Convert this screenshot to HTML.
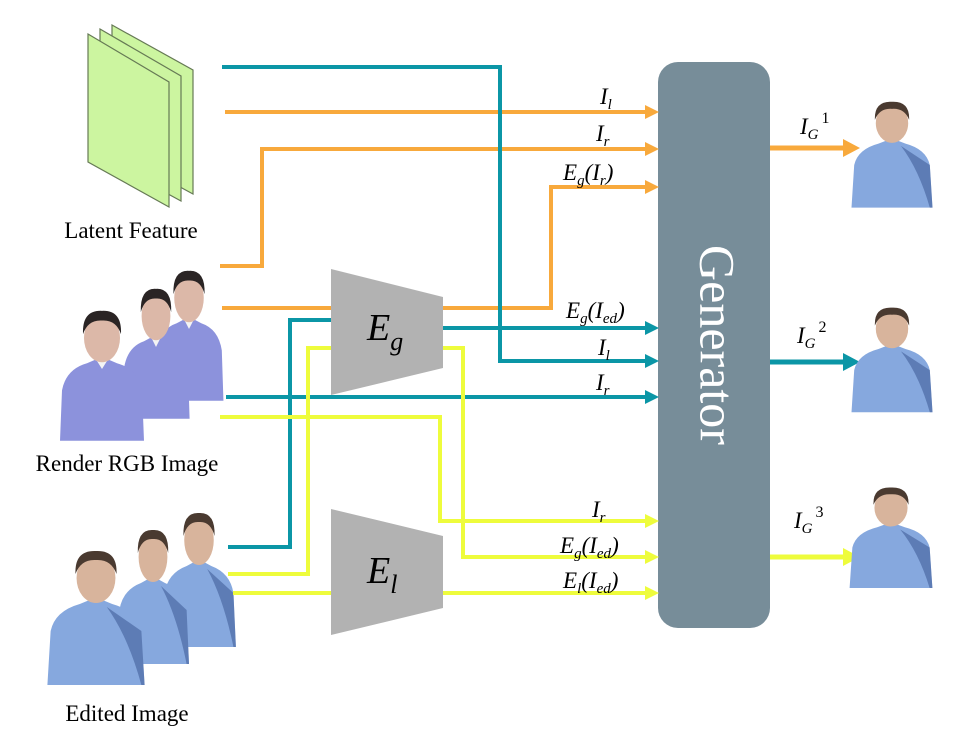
<!DOCTYPE html>
<html><head><meta charset="utf-8"><style>
html,body{margin:0;padding:0;background:#fff;}
svg{display:block;}
.m{font-family:"Liberation Serif",serif;font-style:italic;font-size:23px;fill:#000;}
.s{font-size:15px;}
.t{font-family:"Liberation Serif",serif;font-size:23px;fill:#000;}
</style></head><body>
<svg width="958" height="738" viewBox="0 0 958 738" xmlns="http://www.w3.org/2000/svg">
<defs>
<g id="pr">
 <path d="M8,140 L10,88 Q14,66 35,60 L44,56 L56,56 L65,60 Q86,66 90,88 L92,140 Z" fill="#8c92dc"/>
 <path d="M44,56 L50,66 L56,56 Z" fill="#f4f4f4"/>
 <ellipse cx="50" cy="34" rx="18" ry="25" fill="#dcb8a8"/>
 <path d="M31,30 Q30,5 50,6 Q70,5 69,30 Q64,15 50,16 Q36,15 31,30Z" fill="#2a2424"/>
</g>
<g id="pe">
 <path d="M5,140 L8,86 Q12,66 35,59 L44,55 L56,55 L65,59 Q88,66 92,86 L95,140 Z" fill="#86a8de"/>
 <path d="M60,62 Q80,92 92,140 L95,140 L92,86 Z" fill="#34508c" opacity="0.5"/>
 <ellipse cx="50" cy="33" rx="18" ry="25" fill="#d8b49c"/>
 <path d="M31,29 Q30,5 50,6 Q70,5 69,29 Q64,14 50,15 Q36,14 31,29Z" fill="#4a3a30"/>
</g>
</defs>

<!-- latent feature sheets -->
<polygon points="112,25 193,70 193,194 112,150" fill="#ccf5a0" stroke="#667a55" stroke-width="1.2"/>
<polygon points="100,29 181,76 181,201 100,157" fill="#ccf5a0" stroke="#667a55" stroke-width="1.2"/>
<polygon points="88,34 169,82 169,207 88,162" fill="#ccf5a0" stroke="#667a55" stroke-width="1.2"/>
<text class="t" x="131" y="238" text-anchor="middle">Latent Feature</text>

<!-- render RGB people -->
<use href="#pr" transform="translate(148,265) scale(0.82,0.97)"/>
<use href="#pr" transform="translate(116,283) scale(0.8,0.97)"/>
<use href="#pr" transform="translate(52,305) scale(1.0,0.97)"/>
<text class="t" x="127" y="471" text-anchor="middle">Render RGB Image</text>

<!-- edited people -->
<use href="#pe" transform="translate(158,507) scale(0.82,1.0)"/>
<use href="#pe" transform="translate(113,524) scale(0.8,1.0)"/>
<use href="#pe" transform="translate(42,545) scale(1.08,1.0)"/>
<text class="t" x="127" y="721" text-anchor="middle">Edited Image</text>

<!-- encoders -->
<polygon points="331,269 443,297 443,368 331,395" fill="#b2b2b2"/>
<text class="m" x="367" y="340" style="font-size:38px">E<tspan dy="10" style="font-size:26px">g</tspan></text>
<polygon points="331,509 443,536 443,608 331,635" fill="#b2b2b2"/>
<text class="m" x="367" y="583" style="font-size:38px">E<tspan dy="10" style="font-size:26px">l</tspan></text>

<!-- generator -->
<rect x="658" y="62" width="112" height="566" rx="20" fill="#778d99"/>
<text x="712" y="345" transform="rotate(90 712 345)" text-anchor="middle" dominant-baseline="middle" style="font-family:'Liberation Serif',serif;font-size:50px;fill:#fff">Generator</text>

<g fill="none" stroke-width="4" stroke-linejoin="miter">
 <path d="M225,112 H646" stroke="#f8a93c"/>
 <path d="M220,266 H262 V149 H646" stroke="#f8a93c"/>
 <path d="M222,308 H331 M443,308 H551 V187 H646" stroke="#f8a93c"/>
 <path d="M222,67 H500 V361 H646" stroke="#0b96a6"/>
 <path d="M443,328 H646" stroke="#0b96a6"/>
 <path d="M228,547 H290 V320 H331" stroke="#0b96a6"/>
 <path d="M226,397 H646" stroke="#0b96a6"/>
 <path d="M228,574 H308 V348 H331" stroke="#eefc3c"/>
 <path d="M443,348 H463 V557 H646" stroke="#eefc3c"/>
 <path d="M220,417 H440 V521 H646" stroke="#eefc3c"/>
 <path d="M233,593 H331 M443,593 H646" stroke="#eefc3c"/>
 <path d="M770,148 H846" stroke="#f8a93c" stroke-width="5"/>
 <path d="M770,362 H846" stroke="#0b96a6" stroke-width="5"/>
 <path d="M770,557 H846" stroke="#eefc3c" stroke-width="5"/>
</g>
<g>
 <path d="M645,105 L659,112 L645,119Z" fill="#f8a93c"/>
 <path d="M645,142 L659,149 L645,156Z" fill="#f8a93c"/>
 <path d="M645,180 L659,187 L645,194Z" fill="#f8a93c"/>
 <path d="M645,321 L659,328 L645,335Z" fill="#0b96a6"/>
 <path d="M645,354 L659,361 L645,368Z" fill="#0b96a6"/>
 <path d="M645,390 L659,397 L645,404Z" fill="#0b96a6"/>
 <path d="M645,514 L659,521 L645,528Z" fill="#eefc3c"/>
 <path d="M645,550 L659,557 L645,564Z" fill="#eefc3c"/>
 <path d="M645,586 L659,593 L645,600Z" fill="#eefc3c"/>
 <path d="M843,139 L860,148 L843,157Z" fill="#f8a93c"/>
 <path d="M843,353 L860,362 L843,371Z" fill="#0b96a6"/>
 <path d="M843,548 L860,557 L843,566Z" fill="#eefc3c"/>
</g>

<!-- input labels -->
<text class="m" x="600" y="104">I<tspan class="s" dy="5">l</tspan></text>
<text class="m" x="596" y="141">I<tspan class="s" dy="5">r</tspan></text>
<text class="m" x="563" y="180">E<tspan class="s" dy="5">g</tspan><tspan dy="-5">(I</tspan><tspan class="s" dy="5">r</tspan><tspan dy="-5">)</tspan></text>
<text class="m" x="566" y="318">E<tspan class="s" dy="5">g</tspan><tspan dy="-5">(I</tspan><tspan class="s" dy="5">ed</tspan><tspan dy="-5">)</tspan></text>
<text class="m" x="598" y="355">I<tspan class="s" dy="5">l</tspan></text>
<text class="m" x="596" y="390">I<tspan class="s" dy="5">r</tspan></text>
<text class="m" x="592" y="517">I<tspan class="s" dy="5">r</tspan></text>
<text class="m" x="560" y="553">E<tspan class="s" dy="5">g</tspan><tspan dy="-5">(I</tspan><tspan class="s" dy="5">ed</tspan><tspan dy="-5">)</tspan></text>
<text class="m" x="563" y="588">E<tspan class="s" dy="5">l</tspan><tspan dy="-5">(I</tspan><tspan class="s" dy="5">ed</tspan><tspan dy="-5">)</tspan></text>

<!-- output labels -->
<text class="m" x="800" y="134">I<tspan class="s" dy="5">G</tspan><tspan style="font-style:normal;font-size:16px" dx="3" dy="-16">1</tspan></text>
<text class="m" x="797" y="343">I<tspan class="s" dy="5">G</tspan><tspan style="font-style:normal;font-size:16px" dx="3" dy="-16">2</tspan></text>
<text class="m" x="794" y="528">I<tspan class="s" dy="5">G</tspan><tspan style="font-style:normal;font-size:16px" dx="3" dy="-16">3</tspan></text>

<!-- output people -->
<use href="#pe" transform="translate(847,97) scale(0.9,0.79)"/>
<use href="#pe" transform="translate(847,303) scale(0.9,0.78)"/>
<use href="#pe" transform="translate(845,483) scale(0.92,0.75)"/>
</svg>
</body></html>
